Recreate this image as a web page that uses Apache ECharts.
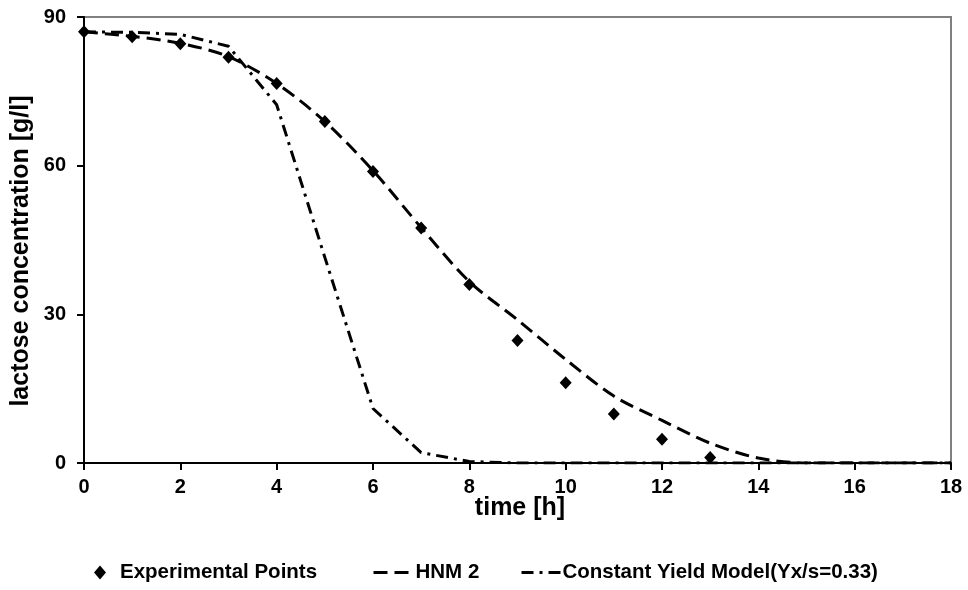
<!DOCTYPE html>
<html>
<head>
<meta charset="utf-8">
<script src="https://cdn.jsdelivr.net/npm/echarts@6/dist/echarts.min.js"></script>
<style>
html,body{margin:0;padding:0;background:#fff;}
#chart{width:968px;height:590px;}
</style>
</head>
<body>
<div id="chart"></div>
<script>
// time [h]
var expTime = [0,1,2,3,4,5,6,7,8,9,10,11,12,13];
var expValues = [87.0,86.0,84.6,81.9,76.6,68.9,58.8,47.4,36.0,24.7,16.2,9.9,4.8,1.1];
var modelTime = [0,1,2,3,4,5,6,7,8,9,10,11,12,13,14,15,16,17,18];
var hnmValues = [87.0,86.1,84.7,82.0,76.6,68.9,59.0,47.5,36.6,28.9,20.9,13.5,8.6,4.0,1.0,0,0,0,0];
var cyValues  = [87.0,86.9,86.5,84.1,72.3,41.5,11.0,2.1,0.3,0,0,0,0,0,0,0,0,0,0];
var xTicks = {min:0, max:18, interval:2};
var yTicks = {min:0, max:90, interval:30};

function pairs(xs, ys){ return xs.map(function(x,i){ return [x, ys[i]]; }); }

var FONT = '"Liberation Sans", Arial, sans-serif';
var HNM_DASH = [14,7];
var CY_DASH = [12,6,3,6];
var chart = echarts.init(document.getElementById('chart'), null, {renderer:'canvas'});
var legendText = {fontFamily:FONT, fontWeight:'bold', fontSize:20.5, color:'#000'};
chart.setOption({
  animation:false,
  backgroundColor:'#fff',
  grid:{left:84, right:17, top:17, bottom:127, show:true, borderColor:'#808080', borderWidth:2, backgroundColor:'transparent'},
  xAxis:{
    type:'value', min:xTicks.min, max:xTicks.max, interval:xTicks.interval,
    axisLine:{show:true, onZero:false, lineStyle:{color:'#000', width:2}},
    axisTick:{show:true, length:7, lineStyle:{color:'#000', width:2}},
    axisLabel:{margin:14, fontFamily:FONT, fontWeight:'bold', fontSize:20, color:'#000'},
    splitLine:{show:false}
  },
  yAxis:{
    type:'value', min:yTicks.min, max:yTicks.max, interval:yTicks.interval,
    axisLine:{show:true, onZero:false, lineStyle:{color:'#000', width:2}},
    axisTick:{show:true, length:7, lineStyle:{color:'#000', width:2}},
    axisLabel:{margin:18, fontFamily:FONT, fontWeight:'bold', fontSize:20, color:'#000'},
    splitLine:{show:false}
  },
  legend:[
    {data:['Experimental Points'], left:94, top:562, padding:0, itemWidth:12, itemHeight:14,
      itemStyle:{color:'#000', opacity:1}, textStyle:Object.assign({padding:[0,0,0,9]}, legendText)},
    {data:['HNM 2'], left:372, top:562, padding:0, itemWidth:40, itemHeight:14,
      itemStyle:{opacity:0}, lineStyle:{color:'#000', width:3, type:HNM_DASH},
      textStyle:Object.assign({padding:[0,0,0,-3]}, legendText)},
    {data:['Constant Yield Model(Yx/s=0.33)'], left:520, top:562, padding:0, itemWidth:40, itemHeight:14,
      itemStyle:{opacity:0}, lineStyle:{color:'#000', width:3, type:CY_DASH},
      textStyle:Object.assign({padding:[0,0,0,-4]}, legendText)}
  ],
  graphic:[
    {type:'text', x:21, y:251, rotation:Math.PI/2, style:{text:'lactose concentration [g/l]', font:'bold 25px "Liberation Sans", Arial, sans-serif', fill:'#000', textAlign:'center', textVerticalAlign:'middle'}},
    {type:'text', x:520, y:508, style:{text:'time [h]', font:'bold 25px "Liberation Sans", Arial, sans-serif', fill:'#000', textAlign:'center', textVerticalAlign:'middle'}}
  ],
  series:[
    {name:'HNM 2', type:'line', data:pairs(modelTime, hnmValues), smooth:0.3, symbol:'none', z:2,
      lineStyle:{color:'#000', width:3, type:HNM_DASH}, itemStyle:{color:'#000'}},
    {name:'Constant Yield Model(Yx/s=0.33)', type:'line', data:pairs(modelTime, cyValues), smooth:false, symbol:'none', z:2,
      lineStyle:{color:'#000', width:3, type:CY_DASH}, itemStyle:{color:'#000'}},
    {name:'Experimental Points', type:'scatter', data:pairs(expTime, expValues), symbol:'diamond', symbolSize:[12,13], z:3,
      itemStyle:{color:'#000', opacity:1}}
  ]
});
</script>
</body>
</html>
